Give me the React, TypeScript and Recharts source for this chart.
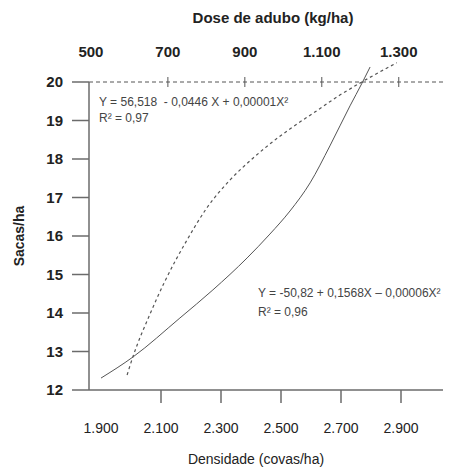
import { LineChart, Line, XAxis, YAxis } from "recharts";

// Densidade (covas/ha) -> Sacas/ha (linha contínua)
const densityX = [1900, 2007, 2163, 2273, 2387, 2463, 2530, 2597, 2663, 2730, 2770, 2797];
const densityY = [12.31, 12.86, 13.87, 14.6, 15.43, 16.05, 16.65, 17.38, 18.34, 19.38, 19.97, 20.39];

// Dose de adubo (kg/ha) -> Sacas/ha (linha tracejada)
const doseX = [594, 609, 653, 692, 750, 802, 861, 921, 983, 1017, 1082, 1147, 1204, 1295];
const doseY = [12.39, 12.86, 13.96, 14.82, 15.9, 16.74, 17.45, 18.02, 18.53, 18.78, 19.22, 19.66, 20.0, 20.5];

const densityTicks = [1900, 2100, 2300, 2500, 2700, 2900];
const doseTicks = [500, 700, 900, 1100, 1300];
const yTicks = [12, 13, 14, 15, 16, 17, 18, 19, 20];

const solidData = densityX.map((x, i) => ({ x, y: densityY[i] }));
const dashedData = doseX.map((x, i) => ({ x, y: doseY[i] }));

const FONT = '"Liberation Sans", Arial, sans-serif';
const AXIS = "#6b6b6b";

// 1900 -> "1.900"
const fmt = (v: number) => {
  const s = String(v);
  return s.length > 3 ? s.slice(0, s.length - 3) + "." + s.slice(-3) : s;
};

const BottomTick = (props: any) => {
  const { x, y, payload } = props;
  return (
    <g>
      {payload.value !== 1900 && (
        <line x1={x} x2={x} y1={y} y2={y + 13} stroke={AXIS} strokeWidth={1.5} />
      )}
      <text x={x} y={y + 43} textAnchor="middle" fontSize={14} fill="#222" fontFamily={FONT}>
        {fmt(payload.value)}
      </text>
    </g>
  );
};

const TopTick = (props: any) => {
  const { x, y, payload } = props;
  return (
    <g>
      {payload.value !== 500 && (
        <line x1={x} x2={x} y1={y - 5} y2={y + 5} stroke="#555" strokeWidth={1} />
      )}
      <text x={x} y={y - 25} textAnchor="middle" fontSize={15} fontWeight="bold" fill="#222" fontFamily={FONT}>
        {fmt(payload.value)}
      </text>
    </g>
  );
};

const note: React.CSSProperties = {
  position: "absolute",
  fontSize: 12,
  color: "#444",
  fontFamily: FONT,
  whiteSpace: "nowrap",
  lineHeight: "14px",
};

export default function App() {
  return (
    <div style={{ position: "absolute", left: 0, top: 0, width: 462, height: 470, fontFamily: FONT, background: "#fff" }}>
      <style>{".recharts-line, .recharts-line * { clip-path: none !important; }"}</style>
      <LineChart width={462} height={470} margin={{ top: 32, right: 19, bottom: 0, left: 0 }}>
        <XAxis
          xAxisId="dens"
          type="number"
          dataKey="x"
          orientation="bottom"
          domain={[1860, 3040]}
          ticks={densityTicks}
          interval={0}
          height={80}
          tickSize={0}
          tickMargin={0}
          tickLine={false}
          tick={<BottomTick />}
          axisLine={{ stroke: AXIS, strokeWidth: 1.5 }}
        />
        <XAxis
          xAxisId="dose"
          type="number"
          dataKey="x"
          orientation="top"
          domain={[495, 1415]}
          ticks={doseTicks}
          interval={0}
          height={50}
          tickSize={0}
          tickMargin={0}
          tickLine={false}
          tick={<TopTick />}
          axisLine={{ stroke: "#555", strokeWidth: 1, strokeDasharray: "4 3" }}
        />
        <YAxis
          type="number"
          dataKey="y"
          domain={[12, 20]}
          allowDataOverflow
          ticks={yTicks}
          interval={0}
          width={89}
          tickSize={17}
          tickMargin={9}
          tick={{ fontSize: 15, fontWeight: "bold", fill: "#222", fontFamily: FONT }}
          tickLine={{ stroke: AXIS, strokeWidth: 1.5 }}
          axisLine={{ stroke: AXIS, strokeWidth: 1.5 }}
        />
        <Line
          xAxisId="dens"
          data={solidData}
          dataKey="y"
          type="monotone"
          stroke="#555"
          strokeWidth={1}
          dot={false}
          isAnimationActive={false}
        />
        <Line
          xAxisId="dose"
          data={dashedData}
          dataKey="y"
          type="monotone"
          stroke="#555"
          strokeWidth={1.2}
          strokeDasharray="3 3"
          dot={false}
          isAnimationActive={false}
        />
      </LineChart>

      <div style={{ position: "absolute", left: 123, top: 9, width: 300, textAlign: "center", fontSize: 15, fontWeight: "bold", color: "#222", lineHeight: "18px" }}>
        Dose de adubo (kg/ha)
      </div>
      <div style={{ position: "absolute", left: 19, top: 236, transform: "translate(-50%, -50%) rotate(-90deg)", fontSize: 14, fontWeight: "bold", color: "#222", whiteSpace: "nowrap" }}>
        Sacas/ha
      </div>
      <div style={{ position: "absolute", left: 106, top: 450, width: 300, textAlign: "center", fontSize: 14, color: "#222", lineHeight: "18px" }}>
        Densidade (covas/ha)
      </div>

      <div style={{ ...note, left: 99, top: 95 }}>Y = 56,518&nbsp; - 0,0446 X + 0,00001X²</div>
      <div style={{ ...note, left: 99, top: 111 }}>R² = 0,97</div>
      <div style={{ ...note, left: 258, top: 286 }}>Y = -50,82 + 0,1568X – 0,00006X²</div>
      <div style={{ ...note, left: 258, top: 305 }}>R² = 0,96</div>
    </div>
  );
}
